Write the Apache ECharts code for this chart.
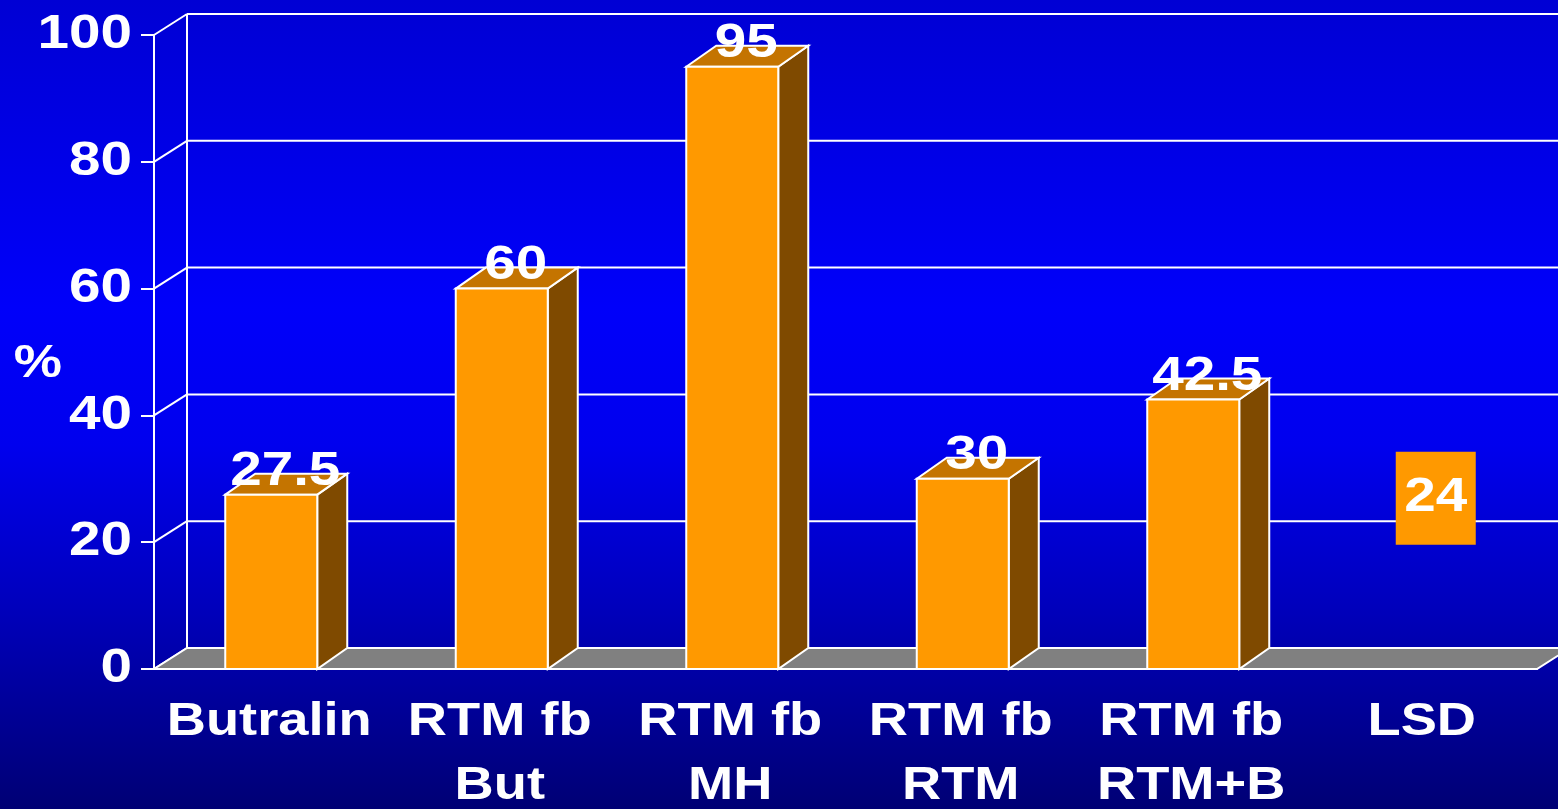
<!DOCTYPE html>
<html>
<head>
<meta charset="utf-8">
<script src="https://cdn.jsdelivr.net/npm/echarts@6/dist/echarts.min.js"></script>
<style>
  html, body { margin: 0; padding: 0; }
  #main { width: 1558px; height: 809px; }
</style>
</head>
<body>
<div id="main"></div>
<script>
// data
var categories = ['Butralin', 'RTM fb\nBut', 'RTM fb\nMH', 'RTM fb\nRTM', 'RTM fb\nRTM+B', 'LSD'];
var barValues = [27.5, 60, 95, 30, 42.5];
var lsdValue = 24;
var yTicks = [0, 20, 40, 60, 80, 100];

var FONT = '"Liberation Sans", Arial, sans-serif';
var SX = 1.18;                     // the original text is a bit stretched sideways
var WALL_DX = 33, WALL_DY = -21;   // depth of back wall
var BAR_DX = 30, BAR_DY = -21;     // depth of bars
var BAR_W = 92;

var myChart = echarts.init(document.getElementById('main'));

// stretched white text
function wideText(str, x, y, size, align, vAlign, lh) {
    return {
        type: 'text', x: x, y: y, scaleX: SX,
        style: { text: str, x: 0, y: 0, align: align, verticalAlign: vAlign, fill: '#fff',
                 font: 'bold ' + size + 'px ' + FONT, lineHeight: lh || size }
    };
}

// back wall grid lines + left wall connectors + y labels
function renderWall(params, api) {
    var cs = params.coordSys;
    var v = api.value(1);
    var p = api.coord([0, v]);
    var x0 = cs.x, y = p[1];
    var st = { stroke: '#fff', lineWidth: 2 };
    return {
        type: 'group',
        children: [
            { type: 'line', shape: { x1: x0, y1: y, x2: x0 + WALL_DX, y2: y + WALL_DY }, style: st },
            { type: 'line', shape: { x1: x0 + WALL_DX, y1: y + WALL_DY, x2: cs.x + cs.width + 80, y2: y + WALL_DY }, style: st },
            wideText(String(v), x0 - 22, y, 48, 'right', 'middle')
        ]
    };
}

// floor
function renderFloor(params, api) {
    var cs = params.coordSys;
    var x0 = cs.x, x1 = cs.x + cs.width, yb = cs.y + cs.height;
    return {
        type: 'group',
        children: [
            { type: 'line', shape: { x1: x0 + WALL_DX, y1: cs.y + WALL_DY, x2: x0 + WALL_DX, y2: yb + WALL_DY },
              style: { stroke: '#fff', lineWidth: 2 } },
            { type: 'polygon',
              shape: { points: [[x0, yb], [x1, yb], [x1 + WALL_DX, yb + WALL_DY], [x0 + WALL_DX, yb + WALL_DY]] },
              style: { fill: '#808080', stroke: '#fff', lineWidth: 2 } }
        ]
    };
}

function renderBar(params, api) {
    var i = api.value(0), v = api.value(1);
    var top = api.coord([i, v]);
    var base = api.coord([i, 0]);
    var x0 = top[0] - BAR_W / 2 + 2, x1 = x0 + BAR_W;
    var yt = top[1], yb = base[1];
    var st = function (c) { return { fill: c, stroke: '#fff', lineWidth: 2 }; };
    return {
        type: 'group',
        children: [
            { type: 'polygon', shape: { points: [[x1, yt], [x1 + BAR_DX, yt + BAR_DY], [x1 + BAR_DX, yb + BAR_DY], [x1, yb]] }, style: st('#7F4A00') },
            { type: 'polygon', shape: { points: [[x0, yt], [x0 + BAR_DX, yt + BAR_DY], [x1 + BAR_DX, yt + BAR_DY], [x1, yt]] }, style: st('#C47400') },
            { type: 'rect', shape: { x: x0, y: yt, width: BAR_W, height: yb - yt }, style: st('#FF9900') },
            wideText(String(v), (x0 + x1) / 2 + 14, yt - 23, 48, 'center', 'middle')
        ]
    };
}

function renderLsd(params, api) {
    var p = api.coord([api.value(0), api.value(1)]);
    var cx = p[0] + 14, cy = p[1] - 19;
    return {
        type: 'group',
        children: [
            { type: 'rect', shape: { x: cx - 40, y: cy - 46, width: 80, height: 93 }, style: { fill: '#FF9900' } },
            wideText(String(api.value(1)), cx, cy, 48, 'center', 'middle')
        ]
    };
}

// category labels under the floor
function renderCat(params, api) {
    var i = api.value(0);
    var p = api.coord([i, 0]);
    return wideText(categories[i], p[0], p[1] + 21, 46, 'center', 'top', 64);
}

var option = {
    backgroundColor: {
        type: 'linear', x: 0, y: 0, x2: 0, y2: 1,
        colorStops: [
            { offset: 0, color: '#0000D4' },
            { offset: 0.38, color: '#0000FA' },
            { offset: 0.55, color: '#0000EE' },
            { offset: 0.75, color: '#0000BC' },
            { offset: 1, color: '#000074' }
        ]
    },
    animation: false,
    grid: { left: 154, right: 21, top: 35, bottom: 140, outerBoundsMode: 'none', containLabel: false },
    xAxis: {
        type: 'category',
        data: categories,
        axisLine: { lineStyle: { color: '#fff', width: 2 } },
        axisTick: { length: 11, lineStyle: { color: '#fff', width: 2 } },
        axisLabel: { show: false },
        splitLine: { show: false }
    },
    yAxis: {
        type: 'value', min: 0, max: 100, interval: 20,
        axisLine: { show: true, lineStyle: { color: '#fff', width: 2 } },
        axisTick: { show: true, length: 13, lineStyle: { color: '#fff', width: 2 } },
        axisLabel: { show: false },
        splitLine: { show: false }
    },
    graphic: [
        { type: 'text', x: 38, y: 364, scaleX: SX,
          style: { text: '%', x: 0, y: 0, align: 'center', verticalAlign: 'middle', fill: '#fff', font: 'bold 46px ' + FONT } }
    ],
    series: [
        { type: 'custom', renderItem: renderWall, clip: false, data: yTicks.map(function (v) { return [0, v]; }) },
        { type: 'custom', renderItem: renderFloor, clip: false, data: [[0, 0]] },
        { type: 'custom', renderItem: renderBar, clip: false, data: barValues.map(function (v, i) { return [i, v]; }) },
        { type: 'custom', renderItem: renderLsd, clip: false, data: [[5, lsdValue]] },
        { type: 'custom', renderItem: renderCat, clip: false, data: categories.map(function (c, i) { return [i, 0]; }) }
    ]
};
myChart.setOption(option);
</script>
</body>
</html>
